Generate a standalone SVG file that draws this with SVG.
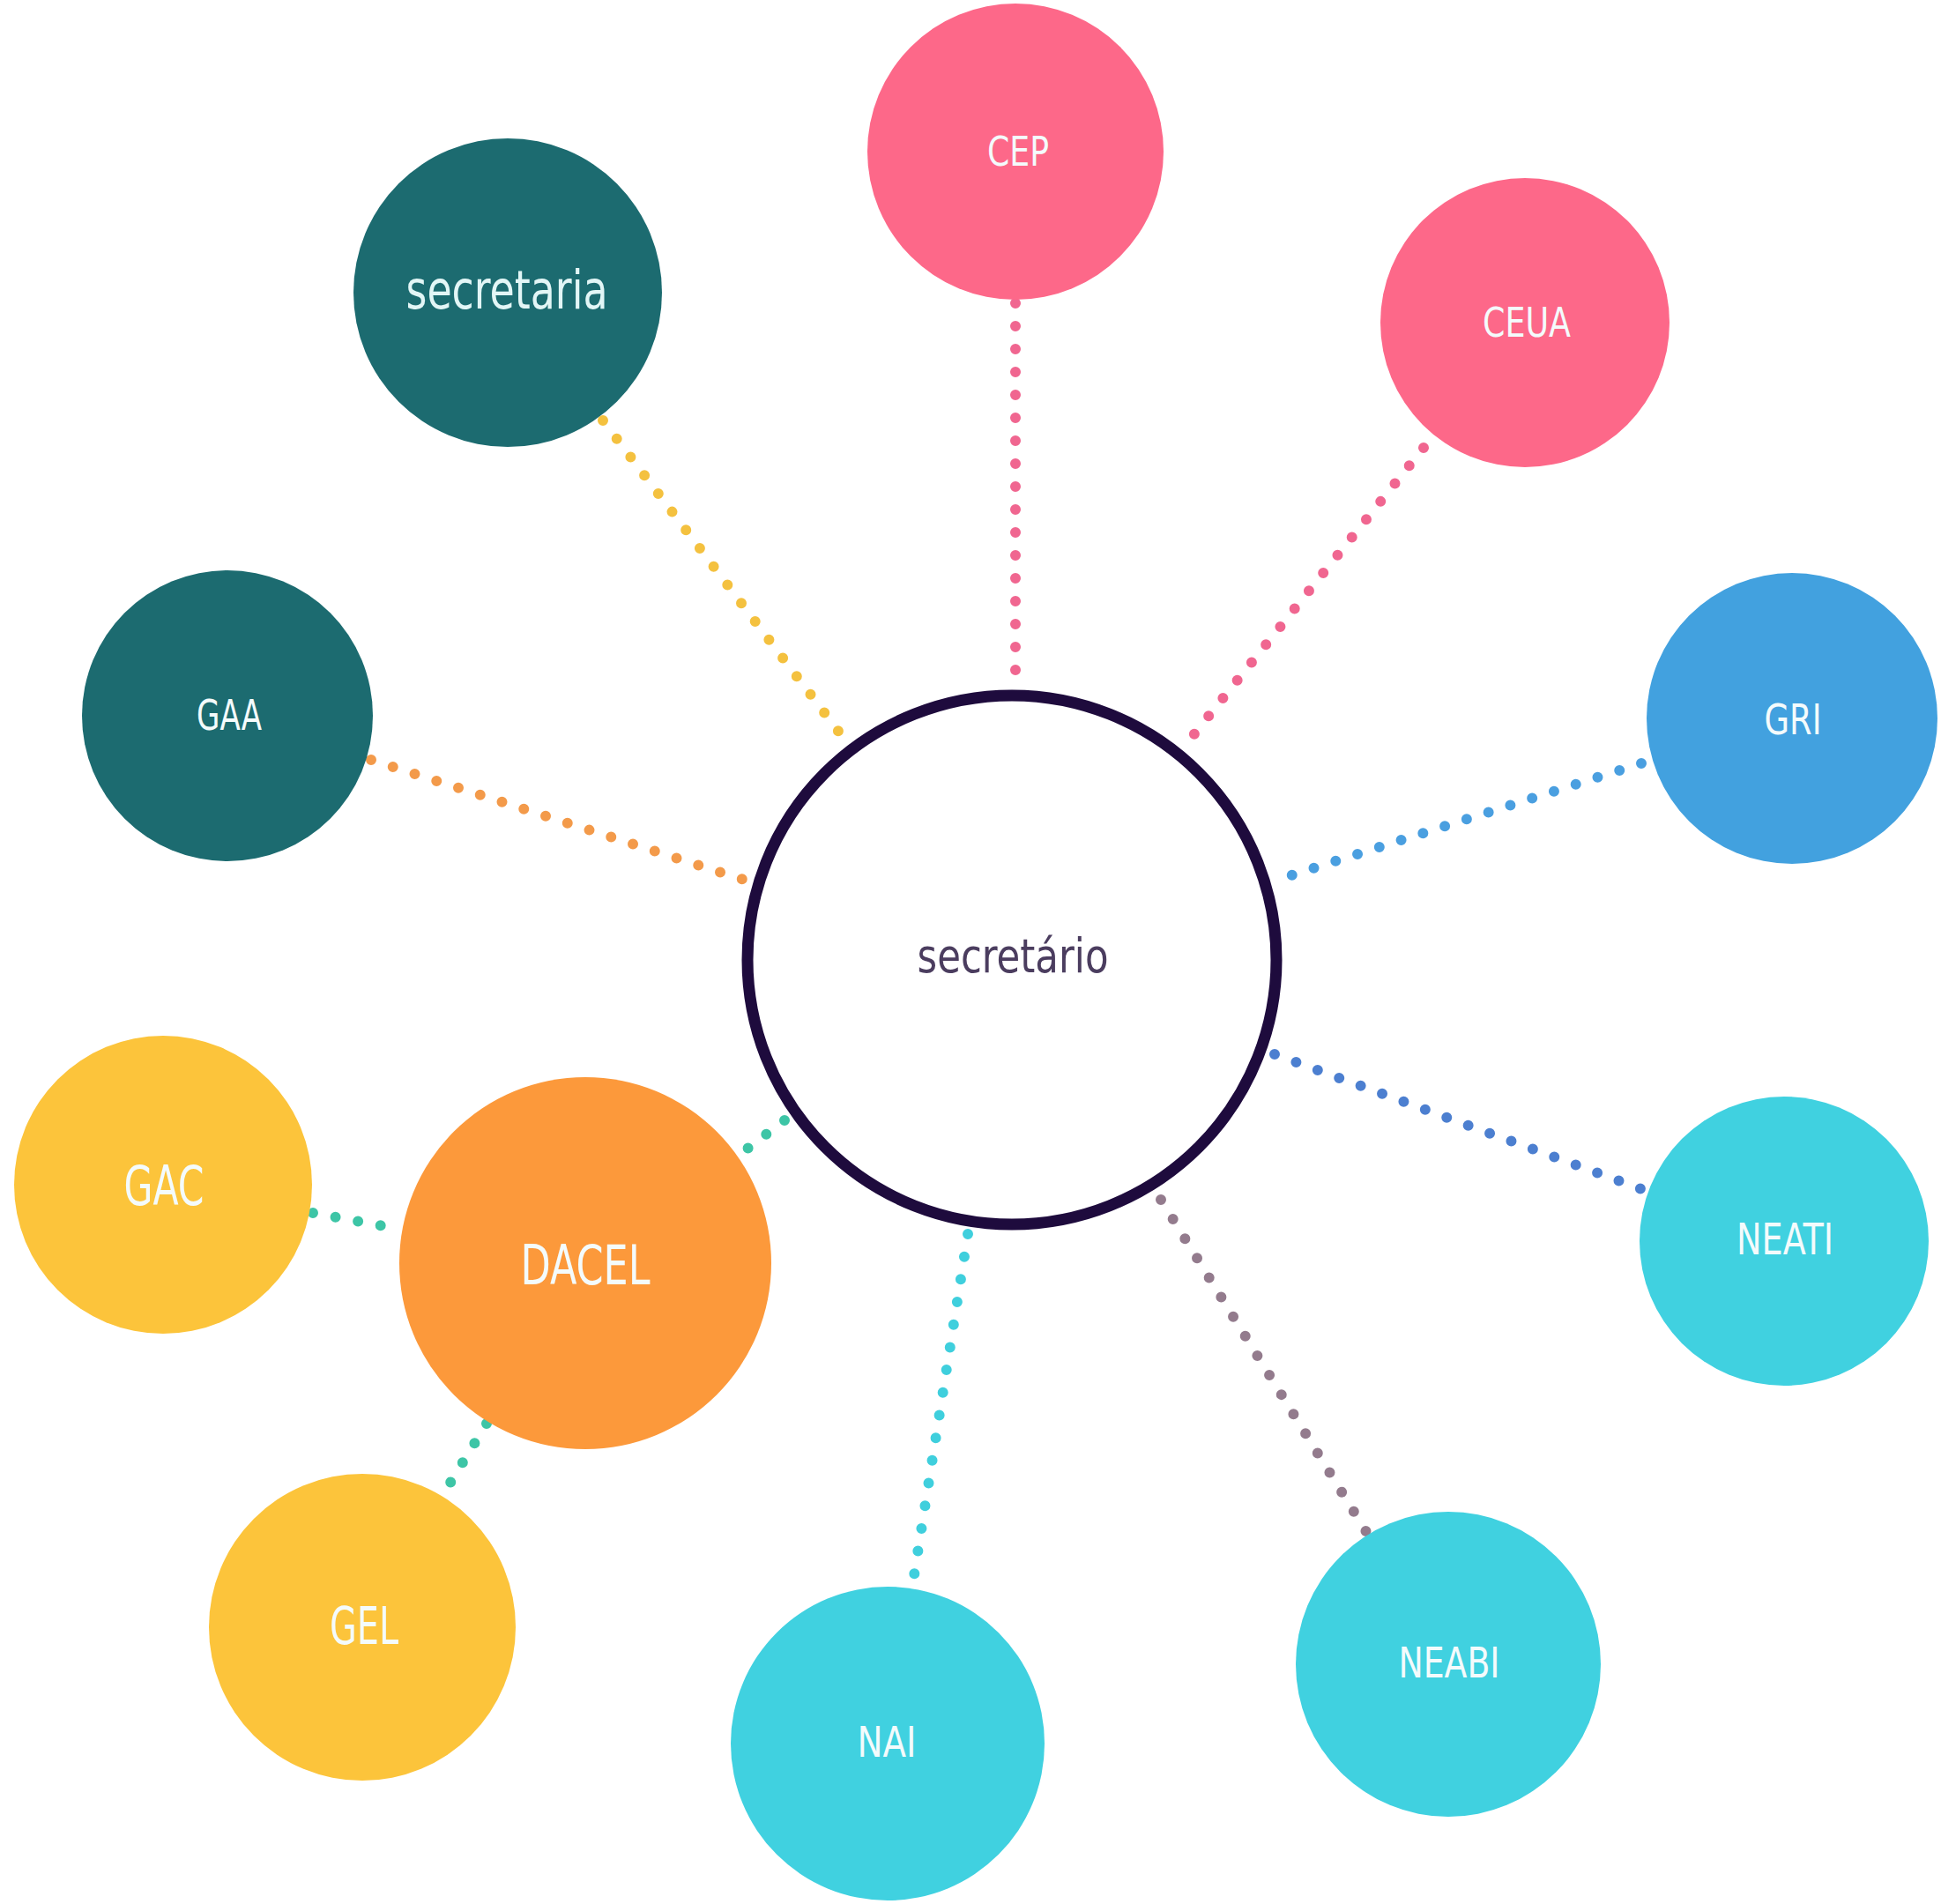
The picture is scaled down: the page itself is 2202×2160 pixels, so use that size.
<svg xmlns="http://www.w3.org/2000/svg" width="2202" height="2160" viewBox="0 0 2202 2160">
  <style>
    .lbl { font-family: "Liberation Sans Narrow", "DejaVu Sans Condensed", "Liberation Sans", sans-serif; fill: #f4fbfc; text-anchor: middle; }
    .lower { font-family: "DejaVu Sans Condensed", "Liberation Sans Narrow", "Liberation Sans", sans-serif; text-anchor: middle; }
    .conn { fill: none; stroke-width: 12; stroke-linecap: round; stroke-dasharray: 0 26; }
  </style>
  <rect width="2202" height="2160" fill="#ffffff"/>
  <g id="connectors">
    <line class="conn" x1="684" y1="477" x2="959" y2="840" stroke="#f4c13f"/>
    <line class="conn" x1="1152" y1="344" x2="1152" y2="775" stroke="#f06690"/>
    <line class="conn" x1="1615" y1="508" x2="1345" y2="845" stroke="#f06690"/>
    <line class="conn" x1="421" y1="862" x2="850" y2="1000" stroke="#f39a4a"/>
    <line class="conn" x1="1862" y1="866" x2="1449" y2="998" stroke="#4a9fe0"/>
    <line class="conn" x1="1446" y1="1196" x2="1868" y2="1351" stroke="#4c7fd0"/>
    <line class="conn" x1="1317" y1="1361" x2="1552" y2="1741" stroke="#937b8d"/>
    <line class="conn" x1="1098" y1="1400" x2="1035" y2="1800" stroke="#3fcfdd"/>
    <line class="conn" x1="890" y1="1271" x2="840" y2="1309" stroke="#3dc5a6"/>
    <line class="conn" x1="355" y1="1376" x2="452" y2="1394" stroke="#3dc5a6"/>
    <line class="conn" x1="552" y1="1615" x2="506" y2="1690" stroke="#3dc5a6"/>
  </g>
  <g id="node-secretario">
    <circle cx="1148" cy="1089" r="300" fill="#ffffff" stroke="#1e0b3d" stroke-width="13"/>
    <text class="lower" x="1149" y="1103" font-size="54" fill="#4b3d5f" textLength="217" lengthAdjust="spacingAndGlyphs">secretário</text>
  </g>
  <g id="node-secretaria">
    <circle cx="576" cy="332" r="175" fill="#1c6b70"/>
    <text class="lower" x="575" y="350" font-size="60" fill="#e2f6f6" textLength="229" lengthAdjust="spacingAndGlyphs">secretaria</text>
  </g>
  <g id="node-CEP">
    <circle cx="1152" cy="172" r="168" fill="#fd6889"/>
    <text class="lbl" x="1155" y="188" font-size="46" textLength="70" lengthAdjust="spacingAndGlyphs">CEP</text>
  </g>
  <g id="node-CEUA">
    <circle cx="1730" cy="366" r="164" fill="#fd6889"/>
    <text class="lbl" x="1732" y="382" font-size="47" textLength="100" lengthAdjust="spacingAndGlyphs">CEUA</text>
  </g>
  <g id="node-GAA">
    <circle cx="258" cy="812" r="165" fill="#1c6b70"/>
    <text class="lbl" x="260" y="828" font-size="48" textLength="74" lengthAdjust="spacingAndGlyphs">GAA</text>
  </g>
  <g id="node-GRI">
    <circle cx="2033" cy="815" r="165" fill="#42a1df"/>
    <text class="lbl" x="2034" y="833" font-size="48" textLength="65" lengthAdjust="spacingAndGlyphs">GRI</text>
  </g>
  <g id="node-GAC">
    <circle cx="185" cy="1344" r="169" fill="#fcc43b"/>
    <text class="lbl" x="186" y="1367" font-size="62" textLength="91" lengthAdjust="spacingAndGlyphs">GAC</text>
  </g>
  <g id="node-DACEL">
    <circle cx="664" cy="1433" r="211" fill="#fc993b"/>
    <text class="lbl" x="664" y="1457" font-size="63" textLength="147" lengthAdjust="spacingAndGlyphs">DACEL</text>
  </g>
  <g id="node-NEATI">
    <circle cx="2024" cy="1408" r="164" fill="#40d1e0"/>
    <text class="lbl" x="2025" y="1423" font-size="49" textLength="110" lengthAdjust="spacingAndGlyphs">NEATI</text>
  </g>
  <g id="node-GEL">
    <circle cx="411" cy="1846" r="174" fill="#fcc43b"/>
    <text class="lbl" x="413" y="1865" font-size="58" textLength="78" lengthAdjust="spacingAndGlyphs">GEL</text>
  </g>
  <g id="node-NAI">
    <circle cx="1007" cy="1978" r="178" fill="#40d1e0"/>
    <text class="lbl" x="1006" y="1993" font-size="48" textLength="67" lengthAdjust="spacingAndGlyphs">NAI</text>
  </g>
  <g id="node-NEABI">
    <circle cx="1643" cy="1888" r="173" fill="#40d1e0"/>
    <text class="lbl" x="1644" y="1903" font-size="48" textLength="115" lengthAdjust="spacingAndGlyphs">NEABI</text>
  </g>
</svg>
